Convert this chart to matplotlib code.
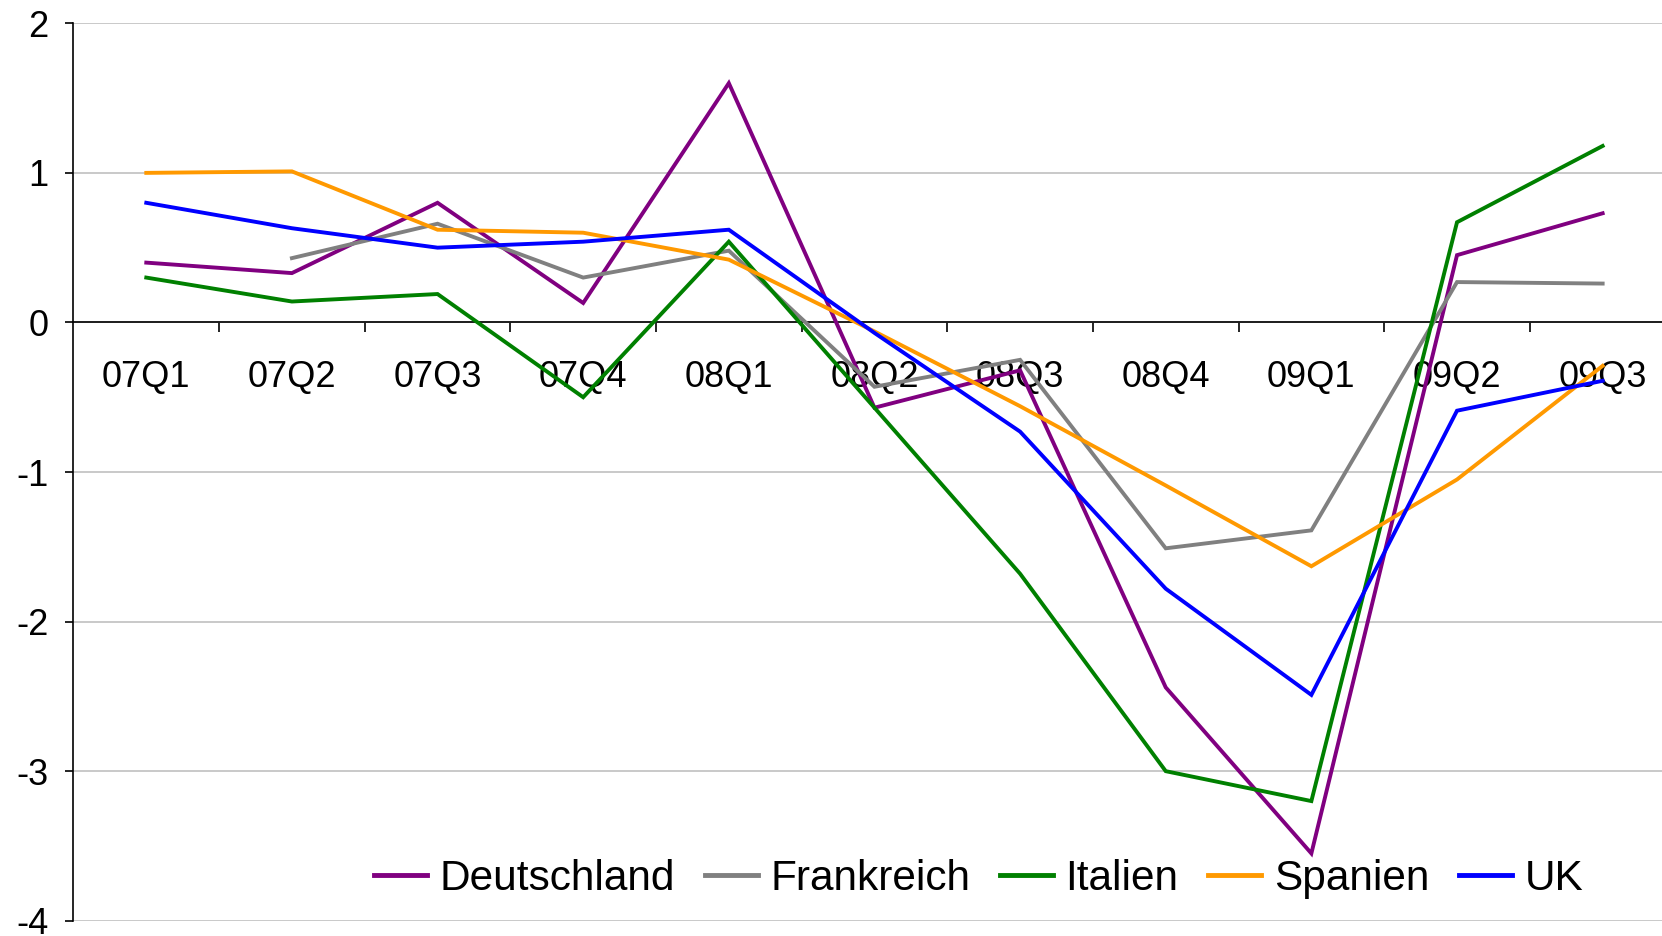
import matplotlib
matplotlib.use("Agg")
import matplotlib.pyplot as plt
import numpy as np

plt.rcParams['font.family'] = ['Liberation Sans', 'DejaVu Sans']

quarters = ["07Q1", "07Q2", "07Q3", "07Q4", "08Q1", "08Q2", "08Q3", "08Q4", "09Q1", "09Q2", "09Q3"]
deutschland = [0.40, 0.33, 0.80, 0.13, 1.60, -0.57, -0.32, -2.44, -3.55, 0.45, 0.73]
frankreich = [np.nan, 0.43, 0.66, 0.30, 0.48, -0.43, -0.25, -1.51, -1.39, 0.27, 0.26]
italien = [0.30, 0.14, 0.19, -0.50, 0.54, -0.57, -1.68, -3.00, -3.20, 0.67, 1.18]
spanien = [1.00, 1.01, 0.62, 0.60, 0.42, -0.06, -0.56, -1.09, -1.63, -1.05, -0.29]
uk = [0.80, 0.63, 0.50, 0.54, 0.62, -0.07, -0.73, -1.78, -2.49, -0.59, -0.39]

series = [
    ("Deutschland", deutschland, "#800080"),
    ("Frankreich", frankreich, "#808080"),
    ("Italien", italien, "#008000"),
    ("Spanien", spanien, "#FF9900"),
    ("UK", uk, "#0000FF"),
]

fig = plt.figure(figsize=(16.62, 9.36), dpi=100)
ax = fig.add_axes([0.0442, 0.0163, 0.9639, 0.9588])

x = np.arange(len(quarters))
for name, vals, col in series:
    ax.plot(x, vals, color=col, lw=2.8, label=name, solid_joinstyle='miter', zorder=3)

ax.set_xlim(-0.5, len(quarters) - 0.5)
ax.set_ylim(-4, 2)
ax.set_yticks(np.arange(-4, 3, 1))
ax.set_yticklabels([str(v) for v in range(-4, 3)], fontsize=26)
ax.yaxis.grid(True, color="#C0C0C0", lw=1.2, zorder=0)
ax.set_axisbelow(True)

ax.spines['top'].set_visible(False)
ax.spines['right'].set_visible(False)
ax.spines['bottom'].set_position(('data', 0))
ax.spines['bottom'].set_color('black')
ax.spines['bottom'].set_linewidth(1.2)
ax.spines['left'].set_linewidth(1.2)
ax.spines['bottom'].set_zorder(2)

ax.set_xticks(x)
ax.set_xticklabels(quarters, fontsize=26)
ax.tick_params(axis='x', which='major', length=0, pad=27)
ax.set_xticks(np.arange(0.5, len(quarters) - 0.5, 1), minor=True)
ax.tick_params(axis='x', which='minor', length=7, width=1.2, direction='out')
ax.tick_params(axis='y', which='major', length=6, width=1.2, direction='out', pad=12)

leg = ax.legend(loc='lower center', bbox_to_anchor=(0.565, -0.013), ncol=5, frameon=False,
                fontsize=30.5, handlelength=1.25, handletextpad=0.3, columnspacing=0.7,
                borderpad=0.3)
for h in leg.get_lines():
    h.set_linewidth(3.5)

fig.savefig("out.png", dpi=100)
